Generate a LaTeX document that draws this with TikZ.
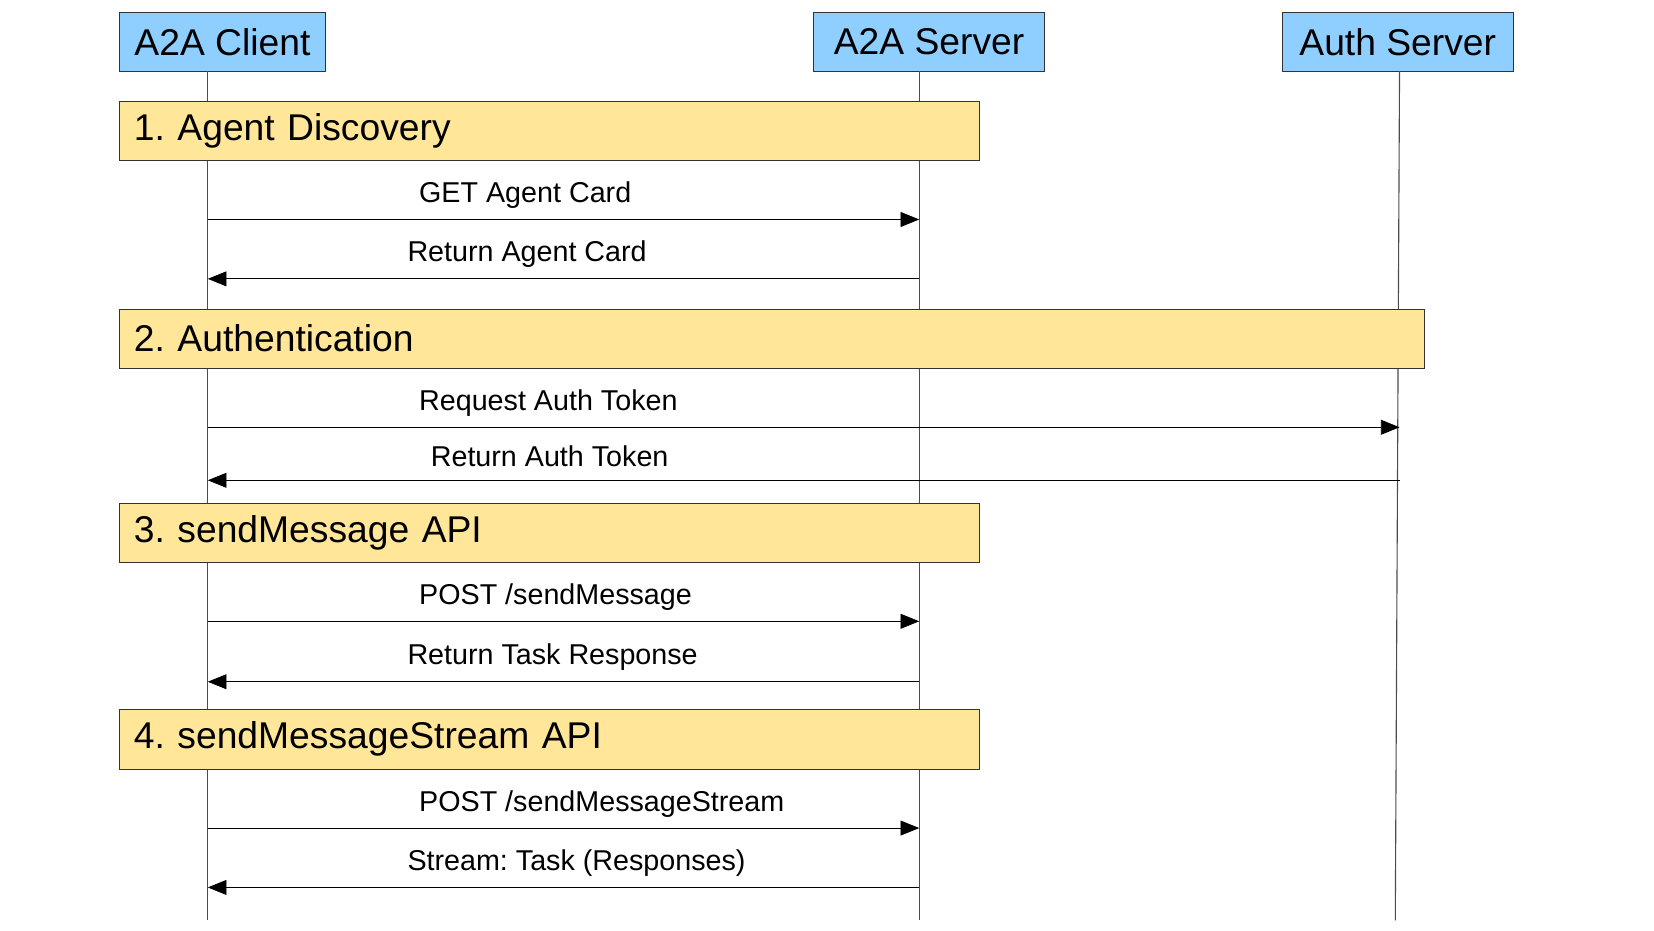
\documentclass[tikz,border=0pt]{standalone}
\usepackage{fontspec}
\setmainfont{Liberation Sans}
\usetikzlibrary{arrows.meta}
\definecolor{actorblue}{HTML}{8ECFFF}
\definecolor{phaseyellow}{HTML}{FFE699}
\frenchspacing
\begin{document}
\begin{tikzpicture}[x=0.02cm,y=-0.02cm,
		Actor/.style={draw=black!80,fill=actorblue,font=\fontsize{20}{23}\selectfont,minimum height=1.12cm,inner sep=0pt,anchor=north west},
		Phase/.style={draw=black!80,fill=phaseyellow,font=\fontsize{20}{23}\selectfont,minimum height=1.12cm,inner ysep=0pt,inner xsep=0.28cm,align=left,anchor=north west},
		Life/.style={color=black!70,semithick},
		Msg/.style={color=black,thin,-{Triangle[length=10pt,width=8pt]}},
		Lbl/.style={font=\fontsize{15.4}{17}\selectfont,anchor=west,inner sep=0pt}]

	\useasboundingbox (0,0) rectangle (1560,878);

	% Actors
	\node[Actor,minimum width=3.9cm] (client) at (112,11) {A2A Client};
	\node[Actor,minimum width=4.36cm] (server) at (767,11) {A2A Server};
	\node[Actor,minimum width=4.36cm] (auth) at (1209,11) {Auth Server};

	% Lifelines
	\coordinate (clientTop) at (196,67);  \coordinate (clientEnd) at (196,868);
	\coordinate (serverTop) at (867,67);  \coordinate (serverEnd) at (867,868);
	\coordinate (authTop) at (1320,67);   \coordinate (authEnd) at (1316,868);
	\draw[Life] (clientTop) -- (clientEnd);
	\draw[Life] (serverTop) -- (serverEnd);
	\draw[Life] (authTop) -- (authEnd);

	% Phases
	\foreach \n/\y/\w/\t in {p1/95/811/{1. Agent Discovery},p2/291/1231/{2. Authentication},
		p3/474/811/{3. sendMessage API},p4/669/811/{4. sendMessageStream API}} {
		\pgfmathsetmacro{\tw}{\w*0.02-0.56}
		\node[Phase,text width=\tw cm] (\n) at (112,\y) {\t};
	}

	% Messages
	\foreach \y/\a/\b/\lx/\t in {207/client/server/395/{GET Agent Card},263/server/client/384/{Return Agent Card},
		403/client/auth/395/{Request Auth Token},453/auth/client/406/{Return Auth Token},
		586/client/server/395/{POST /sendMessage},643/server/client/384/{Return Task Response},
		781/client/server/395/{POST /sendMessageStream},837/server/client/384/{Stream: Task (Responses)}} {
		\coordinate (s\y) at (\a Top |- 0,\y);
		\coordinate (e\y) at (\b Top |- 0,\y);
		\draw[Msg] (s\y) -- (e\y);
		\node[Lbl] (l\y) at (\lx,\y-23) {\t};
	}
\end{tikzpicture}
\end{document}
